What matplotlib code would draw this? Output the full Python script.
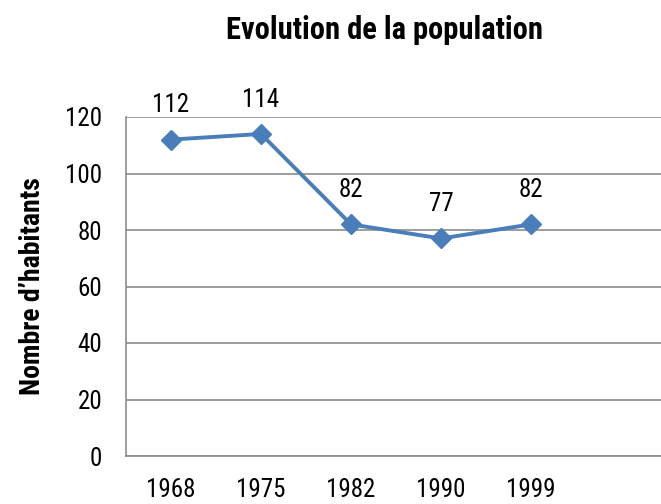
import matplotlib
matplotlib.use("Agg")
import matplotlib.pyplot as plt

# données
annees = ["1968", "1975", "1982", "1990", "1999"]
habitants = [112, 114, 82, 77, 82]

plt.rcParams["font.family"] = ["Roboto Condensed", "DejaVu Sans"]

fig = plt.figure(figsize=(6.61, 5.04), dpi=100)
# zone de tracé : la partie droite déborde de l'image comme dans l'original
ax = fig.add_axes([126 / 661, 48 / 504, 540 / 661, 339 / 504])

x = list(range(len(annees)))
ax.plot(x, habitants, color="#4A7EBB", linewidth=2.8, marker="D",
        markersize=10, markeredgecolor="#4A7EBB", markerfacecolor="#4A7EBB",
        solid_joinstyle="round", zorder=3)

for xi, v in zip(x, habitants):
    ax.annotate(str(v), (xi, v), xytext=(0, 16), textcoords="offset points",
                ha="center", va="bottom", fontsize=18, color="black")

ax.set_xlim(-0.5, 5.5)
ax.set_ylim(0, 120)
ax.set_yticks(range(0, 121, 20))
ax.set_xticks(x)
ax.set_xticklabels(annees)
ax.tick_params(axis="both", length=0, labelsize=18, colors="black")
ax.tick_params(axis="y", pad=17)
ax.tick_params(axis="x", pad=16)

ax.grid(axis="y", color="#8c8c8c", linewidth=1.2)
ax.set_axisbelow(True)
for s in ("top", "right"):
    ax.spines[s].set_visible(False)
for s in ("left", "bottom"):
    ax.spines[s].set_color("#8c8c8c")
    ax.spines[s].set_linewidth(1.2)

ax.set_ylabel("Nombre d\u2019habitants", fontsize=20, fontweight="bold", labelpad=14)
fig.text(385 / 661, 1 - 30 / 504, "Evolution de la population", ha="center",
         va="center", fontsize=22, fontweight="bold")

fig.savefig("out.png", dpi=100)
